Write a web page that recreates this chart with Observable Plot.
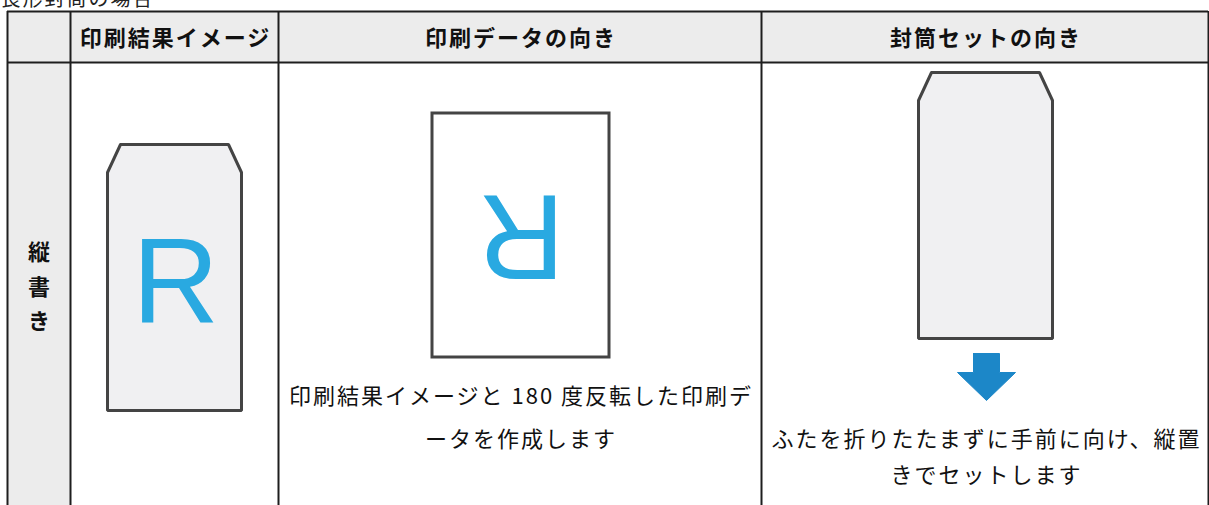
<!DOCTYPE html>
<html lang="ja">
<head>
<meta charset="utf-8">
<script src="https://cdn.jsdelivr.net/npm/d3@7"></script>
<script src="https://cdn.jsdelivr.net/npm/@observablehq/plot@0.6"></script>
<style>
  html, body { margin: 0; padding: 0; background: #fff; overflow: hidden; }
  #chart svg { display: block; }
</style>
</head>
<body>
<div id="chart"></div>
<script>
// ---------------- data ----------------
const sectionTitle = "長形封筒の場合";
const headers = ["", "印刷結果イメージ", "印刷データの向き", "封筒セットの向き"];
const rowLabel = ["縦", "書", "き"];
const captionPrintData = ["印刷結果イメージと 180 度反転した印刷デ", "ータを作成します"];
const captionSetting = ["ふたを折りたたまずに手前に向け、縦置", "きでセットします"];
const letter = "R";
const letterRotations = [0, 180]; // result image, print data (rotated 180°)

// ---------------- layout ----------------
const W = 1209, H = 505;
const colEdges = [7, 70, 278, 761, 1208];
const rowEdges = [11, 62, 520];
const colCenter = i => (colEdges[i] + colEdges[i + 1]) / 2;
const LS = 2; // letter spacing (px)
const FS = 22; // body font size

// envelope template (half widths / heights)
const env = {topHalf: 54, sideHalf: 67, flap: 28, height: 266};
function envelope(id, cx, top) {
  const p = [
    [cx - env.topHalf, top], [cx + env.topHalf, top],
    [cx + env.sideHalf, top + env.flap], [cx + env.sideHalf, top + env.height],
    [cx - env.sideHalf, top + env.height], [cx - env.sideHalf, top + env.flap],
    [cx - env.topHalf, top]
  ];
  return p.map(([x, y]) => ({id, x, y}));
}
const arr = {shaftHalf: 13, headHalf: 29, shaft: 19, head: 28};
function arrow(id, cx, top) {
  const p = [
    [cx - arr.shaftHalf, top], [cx + arr.shaftHalf, top],
    [cx + arr.shaftHalf, top + arr.shaft], [cx + arr.headHalf, top + arr.shaft],
    [cx, top + arr.shaft + arr.head], [cx - arr.headHalf, top + arr.shaft],
    [cx - arr.shaftHalf, top + arr.shaft], [cx - arr.shaftHalf, top]
  ];
  return p.map(([x, y]) => ({id, x, y}));
}

const envelopes = [...envelope("result", colCenter(1), 144), ...envelope("set", 985, 72)];
const arrows = arrow("down", 986, 353);
const page = [{x1: 432, x2: 609, y1: 113, y2: 357}];

const cells = [
  {x1: colEdges[0], x2: colEdges[4], y1: rowEdges[0], y2: rowEdges[1]},
  {x1: colEdges[0], x2: colEdges[1], y1: rowEdges[1], y2: rowEdges[2]}
];

const headerText = headers.map((t, i) => ({t, x: colCenter(i), y: 38}));
const rowText = rowLabel.map((t, i) => ({t, x: colCenter(0), y: 252.5 + i * 34.5}));
const lines = (arrLines, cx, cy, gap) => arrLines.map((t, i) => ({t, x: cx, y: cy + (i - (arrLines.length - 1) / 2) * gap}));
const captionText = [
  ...lines(captionPrintData, colCenter(2), 418, 43),
  ...lines(captionSetting, 985, 457, 36)
];
const letters = [
  {t: letter, x: 176, y: 322, r: letterRotations[0]},
  {t: letter, x: 520, y: 194, r: letterRotations[1]}
];

const CJK = "'Noto Sans CJK JP', 'Noto Sans', sans-serif";

const chart = Plot.plot({
  width: W,
  height: H,
  margin: 0,
  x: {domain: [0, W], range: [0, W], axis: null},
  y: {domain: [0, H], range: [0, H], axis: null},
  style: {fontFamily: CJK, background: "#fff", color: "#111", letterSpacing: LS + "px"},
  marks: [
    // cell backgrounds
    Plot.rect(cells, {x1: "x1", x2: "x2", y1: "y1", y2: "y2", fill: "#ececec"}),
    // grid lines
    Plot.ruleX(colEdges, {x: d => d, y1: rowEdges[0], y2: rowEdges[2], stroke: "#1e1e1e", strokeWidth: 2}),
    Plot.ruleY(rowEdges.slice(0, 2), {y: d => d, x1: colEdges[0], x2: colEdges[4], stroke: "#1e1e1e", strokeWidth: 2}),
    // section title (cut at top in the reference)
    Plot.text([sectionTitle], {x: 0, y: 5, text: d => d, textAnchor: "start", lineAnchor: "bottom", fontSize: 20, fill: "#222"}),
    // envelopes
    Plot.line(envelopes, {x: "x", y: "y", z: "id", fill: "#f0f0f2", stroke: "#444", strokeWidth: 3, strokeLinejoin: "miter", curve: "linear"}),
    // print data page
    Plot.rect(page, {x1: "x1", x2: "x2", y1: "y1", y2: "y2", fill: "#fff", stroke: "#444", strokeWidth: 3}),
    // arrow
    Plot.line(arrows, {x: "x", y: "y", z: "id", fill: "#1c87c8", stroke: "#1c87c8", strokeWidth: 1, strokeLinejoin: "miter"}),
    // R letters
    Plot.text(letters, {x: "x", y: "y", text: "t", rotate: "r", textAnchor: "middle", lineAnchor: "bottom",
      fontSize: 120, fontFamily: "'Liberation Sans', Arial, sans-serif", fill: "#29a9e1"}),
    // headers
    Plot.text(headerText, {x: "x", y: "y", text: "t", dx: LS / 2, fontSize: FS, fontWeight: "bold", fill: "#111"}),
    // row label
    Plot.text(rowText, {x: "x", y: "y", text: "t", dx: LS / 2, fontSize: FS, fontWeight: "bold", fill: "#111"}),
    // captions
    Plot.text(captionText, {x: "x", y: "y", text: "t", dx: LS / 2, fontSize: FS, fill: "#111"})
  ]
});

document.getElementById("chart").appendChild(chart);
</script>
</body>
</html>
